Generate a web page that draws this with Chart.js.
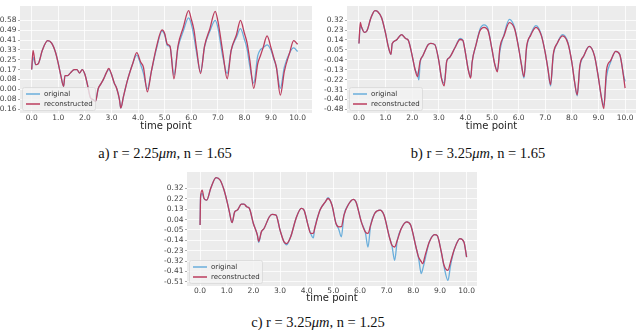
<!DOCTYPE html>
<html>
<head>
<meta charset="utf-8">
<script src="https://cdn.jsdelivr.net/npm/chart.js@4.4.0/dist/chart.umd.min.js"></script>
<style>
  body { margin: 0; background: #fff; width: 640px; height: 330px; position: relative; overflow: hidden; }
  canvas { position: absolute; }
  .cap { position: absolute; font-family: "Liberation Serif", "DejaVu Serif", serif; font-size: 14.5px; color: #111;
         white-space: nowrap; transform: translate(-50%, -50%); }
</style>
</head>
<body>
<canvas id="chartA" width="320" height="132" style="left:0;top:0"></canvas>
<canvas id="chartB" width="320" height="132" style="left:320px;top:0"></canvas>
<canvas id="chartC" width="320" height="139" style="left:160px;top:165px"></canvas>
<div class="cap" style="left:165px;top:153px">a) r = 2.25<i>μm</i>, n = 1.65</div>
<div class="cap" style="left:478px;top:153px">b) r = 3.25<i>μm</i>, n = 1.65</div>
<div class="cap" style="left:318px;top:322px">c) r = 3.25<i>μm</i>, n = 1.25</div>
<script>
const xTicks = [0, 1, 2, 3, 4, 5, 6, 7, 8, 9, 10];
const seriesNames = ["original", "reconstructed"];

// a) r = 2.25um, n = 1.65
const tA = [0, 0.05, 0.15, 0.25, 0.4, 0.6, 0.75, 0.9, 1.0, 1.1, 1.2, 1.25, 1.35, 1.45, 1.6, 1.7, 1.8, 1.9, 2.0, 2.1,
  2.2, 2.3, 2.4, 2.5, 2.6, 2.7, 2.8, 2.9, 3.0, 3.1, 3.2, 3.3, 3.35, 3.45, 3.6, 3.8, 3.95, 4.1, 4.2, 4.35,
  4.5, 4.7, 4.9, 5.0, 5.1, 5.2, 5.35, 5.5, 5.7, 5.9, 6.0, 6.1, 6.2, 6.35, 6.5, 6.7, 6.9, 7.0, 7.1, 7.2,
  7.35, 7.5, 7.7, 7.85, 8.0, 8.1, 8.2, 8.35, 8.5, 8.6, 8.7, 8.85, 9.0, 9.1, 9.2, 9.35, 9.5, 9.7, 9.85, 10.0];
const origA = [0.17, 0.27, 0.21, 0.22, 0.33, 0.41, 0.39, 0.31, 0.22, 0.115, 0.03, 0.12, 0.12, 0.14, 0.17, 0.17, 0.14, 0.17, 0.13, 0.04,
  -0.06, -0.08, -0.09, 0.01, 0.05, 0.09, 0.14, 0.17, 0.13, 0.06, 0.01, -0.08, -0.15, -0.055, 0.08, 0.22, 0.29, 0.21, 0.14, 0.01,
  0.155, 0.35, 0.49, 0.46, 0.37, 0.36, 0.125, 0.35, 0.49, 0.60, 0.55, 0.445, 0.31, 0.15, 0.36, 0.49, 0.58, 0.52, 0.39, 0.26,
  0.137, 0.33, 0.44, 0.51, 0.42, 0.34, 0.20, 0.057, 0.285, 0.335, 0.35, 0.375, 0.33, 0.26, 0.19, 0.013, 0.19, 0.31, 0.35, 0.32];
const reconA = [0.17, 0.33, 0.21, 0.22, 0.33, 0.41, 0.39, 0.31, 0.22, 0.115, 0.03, 0.12, 0.12, 0.14, 0.17, 0.17, 0.14, 0.17, 0.13, 0.04,
  -0.06, -0.08, -0.095, 0.01, 0.05, 0.09, 0.14, 0.18, 0.13, 0.06, 0.01, -0.08, -0.15, -0.055, 0.08, 0.22, 0.31, 0.23, 0.19, -0.016,
  0.155, 0.365, 0.50, 0.47, 0.38, 0.365, 0.093, 0.365, 0.52, 0.66, 0.59, 0.50, 0.34, 0.137, 0.365, 0.51, 0.654, 0.575, 0.44, 0.29,
  0.093, 0.33, 0.46, 0.58, 0.47, 0.39, 0.25, 0.013, 0.22, 0.285, 0.35, 0.45, 0.35, 0.27, 0.19, -0.043, 0.155, 0.31, 0.41, 0.38];
const yLabelsA = ["-0.16", "-0.08", "0.00", "0.08", "0.17", "0.25", "0.33", "0.41", "0.49", "0.58"];

// b) r = 3.25um, n = 1.65
const tB = [0, 0.05, 0.1, 0.2, 0.3, 0.45, 0.6, 0.7, 0.85, 1.0, 1.1, 1.2, 1.25, 1.4, 1.6, 1.75, 1.85, 2.0, 2.1, 2.2,
  2.25, 2.3, 2.4, 2.6, 2.7, 2.85, 3.0, 3.1, 3.2, 3.3, 3.4, 3.6, 3.8, 3.9, 4.0, 4.1, 4.2, 4.25, 4.4, 4.55,
  4.7, 4.85, 5.0, 5.1, 5.2, 5.3, 5.45, 5.65, 5.85, 6.0, 6.1, 6.2, 6.3, 6.45, 6.65, 6.85, 7.0, 7.1, 7.2, 7.3,
  7.45, 7.65, 7.85, 8.0, 8.1, 8.2, 8.3, 8.45, 8.65, 8.85, 9.0, 9.1, 9.2, 9.3, 9.45, 9.65, 9.8, 9.95, 10.0];
const origB = [0.11, 0.26, 0.255, 0.21, 0.225, 0.34, 0.405, 0.397, 0.34, 0.20, 0.084, 0.012, 0.11, 0.14, 0.19, 0.155, 0.14, 0.0, -0.116, -0.17,
  -0.215, -0.06, 0.0, 0.10, 0.112, 0.10, -0.045, -0.20, -0.244, -0.045, -0.016, 0.07, 0.155, 0.14, 0.027, -0.116, -0.19, -0.06, 0.10, 0.24,
  0.277, 0.24, 0.055, -0.073, -0.13, 0.05, 0.19, 0.326, 0.25, 0.07, -0.073, -0.20, 0.07, 0.19, 0.27, 0.19, 0.027, -0.116, -0.27, 0.0,
  0.112, 0.19, 0.12, -0.059, -0.23, -0.358, -0.1, 0.0, 0.084, 0.0, -0.20, -0.358, -0.444, -0.187, -0.06, 0.04, 0.012, -0.18, -0.23];
const reconB = [0.11, 0.30, 0.255, 0.21, 0.225, 0.34, 0.405, 0.397, 0.34, 0.20, 0.084, 0.012, 0.11, 0.14, 0.19, 0.155, 0.14, 0.0, -0.116, -0.187,
  -0.12, -0.045, 0.0, 0.10, 0.112, 0.10, -0.045, -0.20, -0.27, -0.045, -0.016, 0.07, 0.146, 0.14, 0.027, -0.116, -0.20, -0.06, 0.10, 0.226,
  0.255, 0.226, 0.055, -0.073, -0.144, 0.08, 0.18, 0.297, 0.24, 0.07, -0.073, -0.187, 0.084, 0.183, 0.255, 0.183, 0.027, -0.116, -0.258, 0.012,
  0.112, 0.178, 0.112, -0.059, -0.23, -0.35, -0.087, 0.0, 0.084, 0.0, -0.20, -0.358, -0.472, -0.13, -0.045, 0.04, 0.012, -0.20, -0.29];
const yLabelsB = ["-0.48", "-0.40", "-0.31", "-0.22", "-0.13", "-0.04", "0.05", "0.14", "0.23", "0.32"];

// c) r = 3.25um, n = 1.25
const tC = [0, 0.02, 0.08, 0.15, 0.25, 0.4, 0.6, 0.75, 0.9, 1.0, 1.1, 1.2, 1.3, 1.4, 1.55, 1.65, 1.75, 1.85, 2.0, 2.15,
  2.2, 2.3, 2.4, 2.6, 2.7, 2.85, 3.0, 3.15, 3.25, 3.4, 3.6, 3.8, 3.9, 4.05, 4.15, 4.25, 4.3, 4.5, 4.7, 4.8,
  4.95, 5.1, 5.2, 5.3, 5.4, 5.55, 5.75, 5.85, 6.05, 6.2, 6.3, 6.4, 6.55, 6.75, 6.9, 7.1, 7.2, 7.3, 7.4, 7.55,
  7.75, 7.9, 8.1, 8.2, 8.3, 8.35, 8.45, 8.6, 8.8, 8.9, 9.05, 9.15, 9.3, 9.4, 9.55, 9.75, 9.9, 10.0];
const origC = [-0.006, 0.246, 0.275, 0.23, 0.216, 0.32, 0.415, 0.394, 0.305, 0.216, 0.112, 0.017, 0.112, 0.127, 0.18, 0.18, 0.157, 0.142, 0.008, -0.095,
  -0.16, -0.066, -0.036, 0.068, 0.089, 0.083, -0.05, -0.155, -0.18, -0.11, 0.053, 0.142, 0.127, -0.006, -0.08, -0.12, -0.036, 0.127, 0.20, 0.237,
  0.17, 0.008, -0.04, -0.11, 0.083, 0.17, 0.222, 0.20, 0.023, -0.07, -0.20, -0.006, 0.097, 0.127, 0.083, -0.11, -0.19, -0.318, -0.14, -0.036,
  0.023, -0.006, -0.2, -0.3, -0.437, -0.40, -0.30, -0.155, -0.09, -0.10, -0.244, -0.37, -0.496, -0.36, -0.214, -0.125, -0.155, -0.29];
const reconC = [-0.006, 0.246, 0.305, 0.23, 0.216, 0.32, 0.415, 0.394, 0.305, 0.216, 0.112, 0.017, 0.112, 0.127, 0.18, 0.18, 0.157, 0.142, 0.008, -0.095,
  -0.149, -0.066, -0.036, 0.068, 0.089, 0.083, -0.05, -0.155, -0.17, -0.11, 0.053, 0.142, 0.127, -0.006, -0.08, -0.08, -0.036, 0.127, 0.20, 0.23,
  0.17, 0.008, -0.021, -0.02, 0.083, 0.17, 0.222, 0.20, 0.023, -0.066, -0.08, -0.006, 0.097, 0.127, 0.083, -0.11, -0.185, -0.20, -0.14, -0.036,
  0.023, -0.006, -0.2, -0.29, -0.33, -0.348, -0.27, -0.155, -0.09, -0.10, -0.244, -0.36, -0.407, -0.33, -0.214, -0.125, -0.155, -0.29];
const yLabelsC = ["-0.51", "-0.41", "-0.32", "-0.23", "-0.14", "-0.05", "0.04", "0.13", "0.22", "0.32"];

const BLUE = "#6aaedb";
const RED = "#bb3d5e";
const TICK_FONT = { family: "DejaVu Sans", size: 7.5 };

// grey panel behind the lines
const panelBg = {
  id: "panelBg",
  beforeDraw(chart) {
    const a = chart.chartArea;
    const ctx = chart.ctx;
    ctx.save();
    ctx.fillStyle = "#ececec";
    ctx.fillRect(a.left, a.top, a.right - a.left, a.bottom - a.top);
    ctx.restore();
  }
};

// legend in the lower left corner of the plot
const innerLegend = {
  id: "innerLegend",
  afterDatasetsDraw(chart) {
    const a = chart.chartArea;
    const ctx = chart.ctx;
    const x = a.left + 2, y = a.bottom - 26;
    ctx.save();
    ctx.fillStyle = "rgba(242,242,242,0.8)";
    ctx.strokeStyle = "rgba(215,215,215,0.9)";
    ctx.lineWidth = 0.8;
    ctx.beginPath();
    ctx.roundRect(x + 0.5, y + 0.5, 73, 23, 2);
    ctx.fill();
    ctx.stroke();
    ctx.font = "7px 'DejaVu Sans'";
    ctx.textBaseline = "middle";
    chart.data.datasets.forEach((ds, i) => {
      const ly = a.bottom - 19 + i * 10;
      ctx.strokeStyle = ds.borderColor;
      ctx.lineWidth = 1.5;
      ctx.beginPath();
      ctx.moveTo(a.left + 6, ly);
      ctx.lineTo(a.left + 20, ly);
      ctx.stroke();
      ctx.fillStyle = "#333";
      ctx.fillText(ds.label, a.left + 24, ly);
    });
    ctx.restore();
  }
};

function makeChart(id, t, orig, recon, yLabels, opt) {
  const lo = parseFloat(yLabels[0]);
  const hi = parseFloat(yLabels[yLabels.length - 1]);
  const yTickVals = yLabels.map((_, i) => lo + i * (hi - lo) / (yLabels.length - 1));
  const pts = (vals) => vals.map((v, i) => ({ x: t[i], y: v }));

  return new Chart(document.getElementById(id), {
    type: "line",
    data: {
      datasets: [
        // reconstructed is drawn on top (lower order = drawn later)
        { label: seriesNames[0], data: pts(orig), borderColor: BLUE, borderWidth: 1.3, order: 2 },
        { label: seriesNames[1], data: pts(recon), borderColor: RED, borderWidth: 1.3, order: 1 }
      ]
    },
    options: {
      responsive: false,
      animation: false,
      devicePixelRatio: 1,
      layout: { padding: opt.pad },
      elements: {
        point: { radius: 0 },
        line: { cubicInterpolationMode: "monotone", fill: false }
      },
      plugins: { legend: { display: false }, tooltip: { enabled: false } },
      scales: {
        x: {
          type: "linear",
          min: opt.xMin,
          max: opt.xMax,
          afterBuildTicks: (s) => { s.ticks = xTicks.map((v) => ({ value: v })); },
          afterFit: (s) => { s.height = opt.xH; },
          ticks: { font: TICK_FONT, color: "#444", padding: 1, maxRotation: 0, autoSkip: false,
                   callback: (v) => Number(v).toFixed(1) },
          grid: { color: "#ffffff", lineWidth: 0.8, drawTicks: false },
          border: { display: false },
          title: { display: true, text: "time point", color: "#222", padding: 0,
                   font: { family: "DejaVu Sans", size: 10 } }
        },
        y: {
          type: "linear",
          min: opt.yMin,
          max: opt.yMax,
          afterBuildTicks: (s) => { s.ticks = yTickVals.map((v) => ({ value: v })); },
          afterFit: (s) => { s.width = opt.yW; },
          ticks: { font: TICK_FONT, color: "#444", padding: 1.5, autoSkip: false,
                   callback: (v, i) => yLabels[i] },
          grid: { color: "#ffffff", lineWidth: 0.8, tickLength: 2, tickColor: "#999" },
          border: { display: false }
        }
      }
    },
    plugins: [panelBg, innerLegend]
  });
}

makeChart("chartA", tA, origA, reconA, yLabelsA,
  { xMin: -0.44, xMax: 10.54, yMin: -0.192, yMax: 0.699, xH: 19, yW: 20, pad: { left: 0, top: 1, right: 8, bottom: 0 } });
makeChart("chartB", tB, origB, reconB, yLabelsB,
  { xMin: -0.45, xMax: 10.41, yMin: -0.512, yMax: 0.446, xH: 19, yW: 27, pad: { left: 0, top: 1, right: 4, bottom: 0 } });
makeChart("chartC", tC, origC, reconC, yLabelsC,
  { xMin: -0.49, xMax: 10.39, yMin: -0.546, yMax: 0.465, xH: 18, yW: 27, pad: { left: 0, top: 7, right: 3, bottom: 0 } });
</script>
</body>
</html>
